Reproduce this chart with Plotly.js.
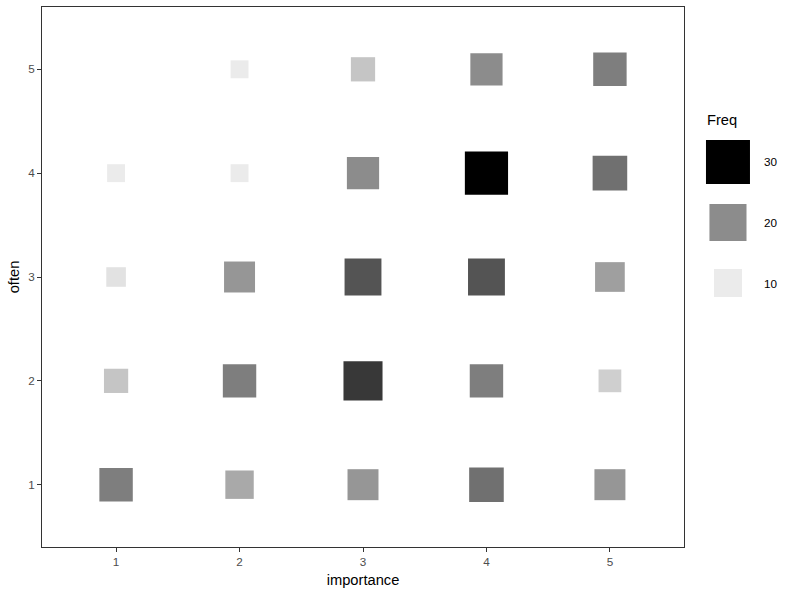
<!DOCTYPE html>
<html>
<head>
<meta charset="utf-8">
<script src="https://cdn.plot.ly/plotly-3.0.1.min.js"></script>
<style>html,body{margin:0;padding:0;background:#fff;}#chart{width:802px;height:597px;}</style>
</head>
<body>
<div id="chart"></div>
<script>
// ---- data ----
const importance = [1, 2, 3, 4, 5];
const oftenLevels = [1, 2, 3, 4, 5];
// Freq by "often" level, columns = importance 1..5 (null = no observation)
const freqOften1 = [21, 17, 19, 22, 19];
const freqOften2 = [14, 21, 26, 21, 13];
const freqOften3 = [11, 19, 24, 24, 18];
const freqOften4 = [10, 10, 20, 30, 22];
const freqOften5 = [null, 10, 14, 20, 21];
const legendBreaks = [30, 20, 10];

// ---- build long table ----
const rows = [freqOften1, freqOften2, freqOften3, freqOften4, freqOften5];
const xs = [], ys = [], fs = [];
rows.forEach((row, i) => row.forEach((f, j) => {
  if (f !== null) { xs.push(importance[j]); ys.push(oftenLevels[i]); fs.push(f); }
}));

// ---- scales ----
const FMIN = 10, FMAX = 30;
const colorscale = [[0, '#EBEBEB'], [0.5, '#8C8C8C'], [1, '#000000']];
function sqrtSize(v, lo, hi) {
  const t = (Math.sqrt(v) - Math.sqrt(FMIN)) / (Math.sqrt(FMAX) - Math.sqrt(FMIN));
  return lo + (hi - lo) * t;
}
const font = "'Liberation Sans', Arial, sans-serif";

const cells = {
  type: 'scatter', mode: 'markers', x: xs, y: ys, xaxis: 'x', yaxis: 'y',
  marker: {
    symbol: 'square', color: fs, cmin: FMIN, cmax: FMAX, colorscale: colorscale,
    showscale: false, size: fs.map(v => sqrtSize(v, 17.9, 43.2)), line: {width: 0}, opacity: 1
  },
  hoverinfo: 'x+y+text', text: fs.map(String)
};
const legendKeys = {
  type: 'scatter', mode: 'markers', x: legendBreaks.map(() => 0), y: legendBreaks,
  xaxis: 'x2', yaxis: 'y2',
  marker: {
    symbol: 'square', color: legendBreaks, cmin: FMIN, cmax: FMAX, colorscale: colorscale,
    showscale: false, size: legendBreaks.map(v => sqrtSize(v, 28, 44)), line: {width: 0}, opacity: 1
  },
  hoverinfo: 'skip'
};

const axisCommon = {
  range: [0.4, 5.6], tickmode: 'array', ticks: 'outside', ticklen: 4, tickwidth: 1,
  tickcolor: '#333333', showline: true, linecolor: '#333333', linewidth: 1, mirror: true,
  showgrid: false, zeroline: false, tickfont: {family: font, size: 11.7, color: '#4D4D4D'}
};

const W = 760, H = 540;
const annotations = [{
  text: 'Freq', xref: 'paper', yref: 'paper', x: (705 - 42) / W, y: 1 - (120 - 7) / H,
  xanchor: 'left', yanchor: 'middle', showarrow: false, font: {family: font, size: 14.7, color: '#000'}
}].concat(legendBreaks.map(b => ({
  text: String(b), xref: 'paper', yref: 'y2', x: (762 - 42) / W, y: b,
  xanchor: 'left', yanchor: 'middle', showarrow: false, font: {family: font, size: 11.7, color: '#000'}
})));

const layout = {
  width: 802, height: 597, margin: {l: 42, r: 0, t: 7, b: 50},
  paper_bgcolor: '#fff', plot_bgcolor: '#fff', showlegend: false,
  font: {family: font},
  xaxis: Object.assign({}, axisCommon, {
    domain: [0, 642 / W], tickvals: importance, ticktext: importance.map(String), anchor: 'y',
    title: {text: 'importance', font: {family: font, size: 14.7, color: '#000'}, standoff: 7}
  }),
  yaxis: Object.assign({}, axisCommon, {
    domain: [0, 1], tickvals: oftenLevels, ticktext: oftenLevels.map(String), anchor: 'x',
    title: {text: 'often', font: {family: font, size: 14.7, color: '#000'}, standoff: 4}
  }),
  xaxis2: {domain: [0.8726, 0.9326], range: [-1, 1], visible: false, anchor: 'y2', fixedrange: true},
  yaxis2: {domain: [0, 1], range: [-33.6, 55.6], visible: false, anchor: 'x2', fixedrange: true},
  annotations: annotations
};

Plotly.newPlot('chart', [cells, legendKeys], layout, {displayModeBar: false, staticPlot: true});
</script>
</body>
</html>
